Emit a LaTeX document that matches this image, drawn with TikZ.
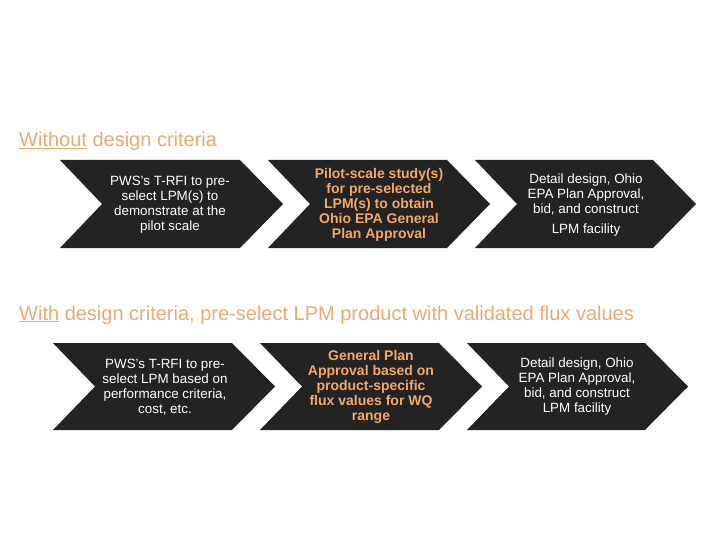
\documentclass[tikz,border=0pt]{standalone}
\usepackage{fontspec}
\setmainfont{Liberation Sans}
\definecolor{chev}{HTML}{232323}
\definecolor{ttl}{HTML}{EBAA72}
\definecolor{org}{HTML}{F2A866}
\begin{document}
\begin{tikzpicture}[x=1pt,y=-1pt,
  chevfill/.style={fill=chev,draw=none},
  wtext/.style={text=white,align=center,font=\fontsize{13.4}{15}\selectfont,inner sep=0pt},
  otext/.style={text=org,align=center,font=\fontsize{14}{15}\selectfont\bfseries,inner sep=0pt},
  titletext/.style={text=ttl,anchor=base west,inner sep=0pt,font=\fontsize{20}{22}\selectfont}]
\useasboundingbox[fill=white] (0,0) rectangle (720,540);
\def\chevron#1#2#3#4{\fill[chevfill] (#1,#3) -- (#2,#3) -- ({#2+43},{(#3+#4)/2}) -- (#2,#4) -- (#1,#4) -- ({#1+42},{(#3+#4)/2}) -- cycle;}
\chevron{60}{240}{160}{248}
\chevron{268}{447}{160}{248}
\chevron{475}{653}{160}{248}
\chevron{53}{232}{343}{430}
\chevron{260}{439}{343}{430}
\chevron{467}{645}{343}{430}
\node[titletext] (t1) at (19,147) {\underline{Without} design criteria};
\node[titletext] (t2) at (19,320) {\underline{With} design criteria, pre-select LPM product with validated flux values};
\node[wtext] (a1) at (170,205) {PWS's T-RFI to pre-\\select LPM(s) to\\demonstrate at the\\pilot scale};
\node[otext] (a2) at (379,205) {Pilot-scale study(s)\\for pre-selected\\LPM(s) to obtain\\Ohio EPA General\\Plan Approval};
\node[wtext] (a3) at (586,205) {Detail design, Ohio\\EPA Plan Approval,\\bid, and construct\\[5pt]LPM facility};
\node[wtext] (b1) at (165,387) {PWS's T-RFI to pre-\\select LPM based on\\performance criteria,\\cost, etc.};
\node[otext] (b2) at (371,387) {General Plan\\Approval based on\\product-specific\\flux values for WQ\\range};
\node[wtext] (b3) at (577,387) {Detail design, Ohio\\EPA Plan Approval,\\bid, and construct\\LPM facility};
\end{tikzpicture}
\end{document}
